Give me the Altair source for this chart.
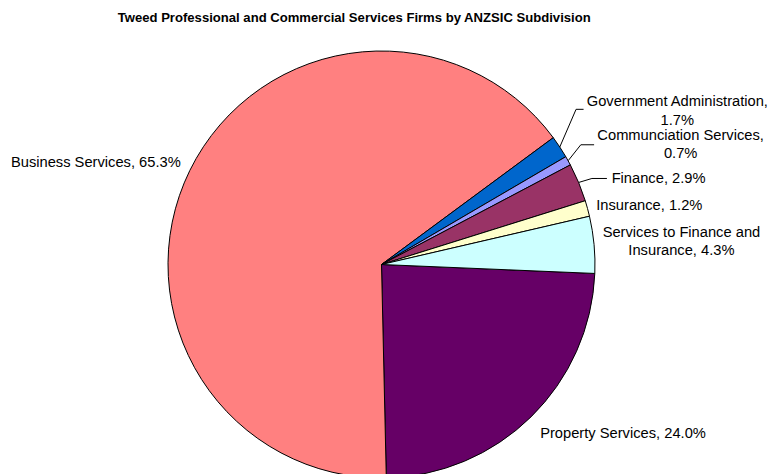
import math
import altair as alt
import pandas as pd

# ---- data (clockwise order starting at ~3 o'clock) ----
categories = ["Property Services", "Business Services", "Government Administration",
              "Communciation Services", "Finance", "Insurance",
              "Services to Finance and Insurance"]
shares = [24.0, 65.3, 1.7, 0.7, 2.9, 1.2, 4.3]
label_lines = [["Property Services, 24.0%"],
               ["Business Services, 65.3%"],
               ["Government Administration,", "1.7%"],
               ["Communciation Services,", "0.7%"],
               ["Finance, 2.9%"],
               ["Insurance, 1.2%"],
               ["Services to Finance and", "Insurance, 4.3%"]]
colors = ["#660066", "#FF8080", "#0066CC", "#9999FF", "#993366", "#FFFFCC", "#CCFFFF"]
title_text = "Tweed Professional and Commercial Services Firms by ANZSIC Subdivision"

# ---- layout ----
W, H = 762, 466
CX, CY = 373.5, 256.5
R = 213.5
START_DEG = 92.4
FONT = "Liberation Sans, Arial, sans-serif"
label_radius = [232, 225, 341, 323, 246, 223, 301]
label_shift_deg = [1.3, 0.7, 6.2, 6.9, 1.9, -0.4, 0.5]
label_dx = [0, 0, -7.5, 0, 0, 0, 0]
label_dy = [0, 0, -6.5, -7, 1, 1.5, -6.5]
label_align = ["left", "right", "center", "center", "left", "left", "center"]
# leader lines: (category index, rise, run, tail)
leaders = [(2, 37.7, 16.3, 7.5), (3, 16.0, 12.7, 13.3), (4, 4.0, 13.3, 15.0)]

total = sum(shares)
mids = []
acc = START_DEG
for s in shares:
    span = s / total * 360.0
    mids.append(acc + span / 2)
    acc += span


def polar(deg, r):
    a = math.radians(deg)
    return CX + r * math.sin(a), CY - r * math.cos(a)


pie_df = pd.DataFrame({"category": categories, "share": shares,
                       "order": list(range(len(categories)))})

lab_rows = []
for i, c in enumerate(categories):
    x, y = polar(mids[i] + label_shift_deg[i], label_radius[i])
    lab_rows.append({"category": c, "text": "\n".join(label_lines[i]),
                     "x": x + label_dx[i], "y": y + label_dy[i],
                     "align": label_align[i]})
lab_df = pd.DataFrame(lab_rows)

lead_rows = []
for idx, rise, run, tail in leaders:
    x0, y0 = polar(mids[idx], R)
    pts = [(x0, y0), (x0 + run, y0 - rise), (x0 + run + tail, y0 - rise)]
    for k, (x, y) in enumerate(pts):
        lead_rows.append({"category": categories[idx], "k": k, "x": x, "y": y})
lead_df = pd.DataFrame(lead_rows)

start = math.radians(START_DEG)
pie = alt.Chart(pie_df).mark_arc(outerRadius=R, stroke="black", strokeWidth=1).encode(
    theta=alt.Theta("share:Q", stack=True,
                    scale=alt.Scale(range=[start, start + 2 * math.pi])),
    order=alt.Order("order:Q"),
    color=alt.Color("category:N", scale=alt.Scale(domain=categories, range=colors),
                    legend=None),
    x=alt.value(CX), y=alt.value(CY),
)

lines = alt.Chart(lead_df).mark_line(color="black", strokeWidth=1).encode(
    x=alt.X("x:Q", scale=None), y=alt.Y("y:Q", scale=None),
    detail="category:N", order="k:Q",
)

text_layers = []
for al in ["left", "right", "center"]:
    text_layers.append(
        alt.Chart(lab_df).transform_filter(alt.datum.align == al)
        .mark_text(align=al, baseline="middle", font=FONT, fontSize=14.7,
                   lineHeight=18.8, lineBreak="\n", color="black")
        .encode(x=alt.X("x:Q", scale=None), y=alt.Y("y:Q", scale=None), text="text:N")
    )

title = alt.Chart(pd.DataFrame({"t": [title_text]})).mark_text(
    font=FONT, fontSize=13.1, fontWeight="bold", align="center",
    baseline="alphabetic", color="black"
).encode(x=alt.value(346.2), y=alt.value(13.8), text="t:N")

chart = alt.layer(pie, lines, *text_layers, title).properties(
    width=W, height=H, padding=0, autosize=alt.AutoSizeParams(type="none")
).configure_view(stroke=None)

chart.save("out.html", embed_options={"renderer": "svg", "actions": False})
